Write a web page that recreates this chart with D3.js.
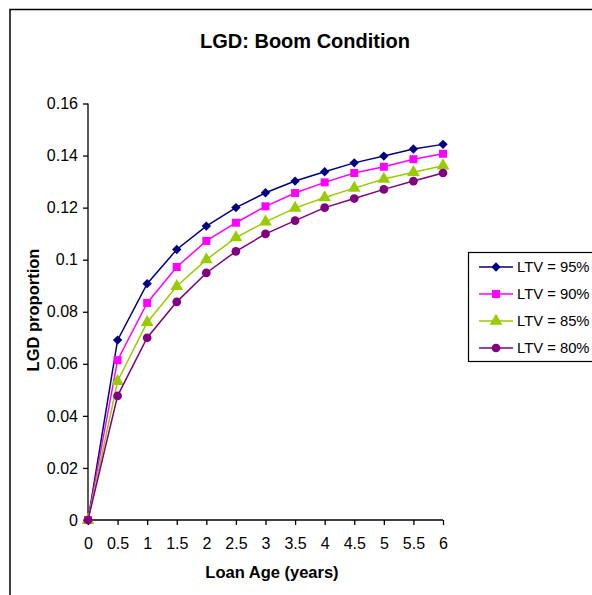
<!DOCTYPE html>
<html><head><meta charset="utf-8">
<script src="https://cdn.jsdelivr.net/npm/d3@7"></script>
<style>
body{margin:0;background:#fff;}
text{font-family:Arial,"Liberation Sans",sans-serif;fill:#000;}
</style></head>
<body><svg id="c" width="592" height="595"></svg>
<script>
const loanAge = [0,0.5,1,1.5,2,2.5,3,3.5,4,4.5,5,5.5,6];
const ltv95 = [0,0.0691,0.0908,0.1039,0.1129,0.1200,0.1257,0.1302,0.1338,0.1372,0.1398,0.1425,0.1443];
const ltv90 = [0,0.0614,0.0834,0.0972,0.1072,0.1142,0.1205,0.1256,0.1297,0.1333,0.1357,0.1386,0.1407];
const ltv85 = [0,0.0533,0.0759,0.0898,0.1000,0.1085,0.1145,0.1198,0.1239,0.1275,0.1310,0.1336,0.1361];
const ltv80 = [0,0.0477,0.0700,0.0838,0.0949,0.1032,0.1099,0.1150,0.1200,0.1235,0.1270,0.1302,0.1333];
const seriesNames = ["LTV = 95%","LTV = 90%","LTV = 85%","LTV = 80%"];
const seriesColors = ["#000080","#FF00FF","#99CC00","#800080"];
const seriesShapes = ["diamond","square","triangle","circle"];
const yTicks = [0,0.02,0.04,0.06,0.08,0.1,0.12,0.14,0.16];
const xTicks = [0,0.5,1,1.5,2,2.5,3,3.5,4,4.5,5,5.5,6];
const titleText = "LGD: Boom Condition";
const xTitle = "Loan Age (years)";
const yTitle = "LGD proportion";

const svg = d3.select("#c");
svg.append("path").attr("d","M10,600 L10,9.5 L600,9.5").attr("fill","none").attr("stroke","#000").attr("stroke-width",1.5);

const x = d3.scaleLinear().domain([0,6]).range([88,443]);
const y = d3.scaleLinear().domain([0,0.16]).range([520,103.5]);

svg.append("text").attr("x",305).attr("y",48).attr("text-anchor","middle")
  .attr("font-size",20).attr("font-weight","bold").text(titleText);

const yAxis = svg.append("g").attr("transform","translate(88,0)")
  .call(d3.axisLeft(y).tickValues(yTicks).tickSize(5).tickPadding(5).tickFormat(d=>String(+d.toFixed(2))));
const xAxis = svg.append("g").attr("transform","translate(0,520)")
  .call(d3.axisBottom(x).tickValues(xTicks).tickSize(5).tickPadding(13).tickFormat(d=>String(d)));
[yAxis,xAxis].forEach(a=>{
  a.select(".domain").attr("stroke","#000").attr("stroke-width",1.3);
  a.selectAll(".tick line").attr("stroke","#000").attr("stroke-width",1.3);
  a.selectAll(".tick text").attr("font-size",16).attr("font-family","Arial,'Liberation Sans',sans-serif").attr("fill","#000");
});
yAxis.select(".domain").attr("d","M0,103.5V520");
xAxis.select(".domain").attr("d","M88,0H443");

svg.append("text").attr("x",272).attr("y",578).attr("text-anchor","middle")
  .attr("font-size",16.5).attr("font-weight","bold").text(xTitle);
svg.append("text").attr("transform","translate(39,310) rotate(-90)").attr("text-anchor","middle")
  .attr("font-size",16.5).attr("font-weight","bold").text(yTitle);

const symbolOf = {diamond:d3.symbolSquare,square:d3.symbolSquare,triangle:d3.symbolTriangle,circle:d3.symbolCircle};
const sizeOf = {diamond:44,square:64,triangle:70,circle:60};
const rotOf = {diamond:45,square:0,triangle:0,circle:0};
const allSeries = [ltv95,ltv90,ltv85,ltv80];
const line = d3.line().x((d,i)=>x(loanAge[i])).y(d=>y(d));

allSeries.forEach((vals,k)=>{
  const sh = seriesShapes[k];
  const g = svg.append("g");
  g.append("path").datum(vals).attr("d",line).attr("fill","none")
    .attr("stroke",seriesColors[k]).attr("stroke-width",1.5);
  g.selectAll("path.m").data(vals).enter().append("path").attr("class","m")
    .attr("transform",(d,i)=>`translate(${x(loanAge[i])},${y(d)}) rotate(${rotOf[sh]})`)
    .attr("d",d3.symbol().type(symbolOf[sh]).size(sizeOf[sh]))
    .attr("fill",seriesColors[k]);
});

const lg = svg.append("g");
lg.append("rect").attr("x",468.5).attr("y",252.5).attr("width",140).attr("height",109)
  .attr("fill","#fff").attr("stroke","#000").attr("stroke-width",1.2);
const rowY = d3.scalePoint().domain(seriesNames).range([267,348]);
seriesNames.forEach((n,k)=>{
  const ry = rowY(n);
  const sh = seriesShapes[k];
  lg.append("line").attr("x1",479).attr("x2",513).attr("y1",ry).attr("y2",ry)
    .attr("stroke",seriesColors[k]).attr("stroke-width",1.5);
  lg.append("path").attr("transform",`translate(496,${ry}) rotate(${rotOf[sh]})`)
    .attr("d",d3.symbol().type(symbolOf[sh]).size(sizeOf[sh]))
    .attr("fill",seriesColors[k]);
  lg.append("text").attr("x",517).attr("y",ry+5).attr("font-size",14.8).text(n);
});
</script></body></html>
